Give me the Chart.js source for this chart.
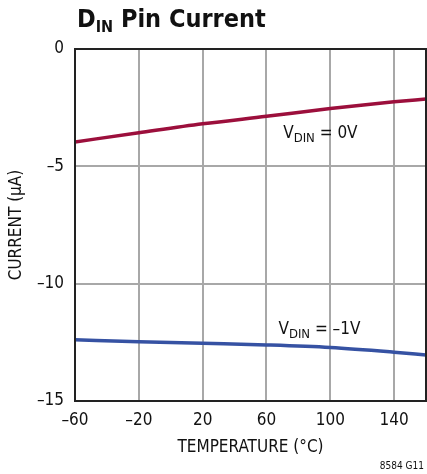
<!DOCTYPE html>
<html lang="en">
<head>
    <meta charset="UTF-8">
    <title>DIN Pin Current</title>
    <style>
        html, body { margin: 0; padding: 0; background: #fff; }
        #wrap { width: 427px; height: 474px; position: relative; }
    </style>
</head>
<body>
    <div id="wrap"><canvas id="chart"></canvas></div>

    <script src="https://cdn.jsdelivr.net/npm/chart.js"></script>
    <script>
        // temperature (°C)
        const temps = [-60, -20, 20, 60, 100, 140, 160];
        // current (µA) for VDIN = 0V and VDIN = -1V
        const current0V = [-3.96, -3.57, -3.19, -2.87, -2.54, -2.25, -2.13];
        const currentNeg1V = [-12.39, -12.47, -12.54, -12.61, -12.72, -12.92, -13.04];
        const xTicks = [-60, -20, 20, 60, 100, 140];
        const yTicks = [-15, -10, -5, 0];

        const FONT = "'Liberation Sans Narrow', 'DejaVu Sans Condensed', 'Liberation Sans', sans-serif";
        const dash = v => String(v).replace('-', '\u2013');

        // title, curve labels, frame and figure id
        const extras = {
            id: 'extras',
            afterDraw(chart) {
                const ctx = chart.ctx;
                const a = chart.chartArea;
                const x = chart.scales.x, y = chart.scales.y;
                ctx.save();

                ctx.strokeStyle = '#222';
                ctx.lineWidth = 2;
                ctx.strokeRect(a.left, a.top, a.right - a.left, a.bottom - a.top);

                ctx.fillStyle = '#111';
                ctx.textBaseline = 'alphabetic';
                ctx.textAlign = 'left';
                // title D_IN Pin Current
                let tx = 77;
                ctx.font = 'bold 25px ' + FONT;
                ctx.fillText('D', tx, 27);
                tx += ctx.measureText('D').width;
                ctx.font = 'bold 16px ' + FONT;
                ctx.fillText('IN', tx, 32);
                tx += ctx.measureText('IN').width;
                ctx.font = 'bold 25px ' + FONT;
                ctx.fillText(' Pin Current', tx, 27);

                // curve labels
                const label = (px, py, tail) => {
                    ctx.font = '17px ' + FONT;
                    ctx.fillText('V', px, py);
                    let w = ctx.measureText('V').width;
                    ctx.font = '13px ' + FONT;
                    ctx.fillText('DIN', px + w, py + 4);
                    w += ctx.measureText('DIN').width;
                    ctx.font = '17px ' + FONT;
                    ctx.fillText(tail, px + w, py);
                };
                label(x.getPixelForValue(70.5), y.getPixelForValue(-3.8), ' = 0V');
                label(x.getPixelForValue(67.5), y.getPixelForValue(-12.15), ' = \u20131V');

                ctx.font = '10px ' + FONT;
                ctx.textAlign = 'right';
                ctx.fillText('8584 G11', 424, 469);
                ctx.restore();
            }
        };

        new Chart(document.getElementById('chart'), {
            type: 'line',
            data: {
                datasets: [
                    {
                        label: 'VDIN = 0V',
                        data: temps.map((t, i) => ({ x: t, y: current0V[i] })),
                        borderColor: '#9c0f3c',
                        borderWidth: 3.5,
                        pointRadius: 0,
                        cubicInterpolationMode: 'monotone'
                    },
                    {
                        label: 'VDIN = -1V',
                        data: temps.map((t, i) => ({ x: t, y: currentNeg1V[i] })),
                        borderColor: '#3652a3',
                        borderWidth: 3.5,
                        pointRadius: 0,
                        cubicInterpolationMode: 'monotone'
                    }
                ]
            },
            options: {
                responsive: true,
                maintainAspectRatio: false,
                animation: false,
                layout: { padding: { top: 49, right: 1, left: 0, bottom: 0 } },
                plugins: { legend: { display: false }, tooltip: { enabled: false } },
                scales: {
                    x: {
                        type: 'linear',
                        min: -60,
                        max: 160,
                        afterBuildTicks: s => { s.ticks = xTicks.map(v => ({ value: v })); },
                        afterFit: s => { s.height = 73; },
                        grid: { color: '#a8a8a8', lineWidth: 2, drawTicks: false },
                        border: { display: false },
                        ticks: {
                            color: '#111',
                            padding: 9,
                            maxRotation: 0,
                            font: { family: FONT, size: 17 },
                            callback: v => dash(v)
                        },
                        title: {
                            display: true,
                            text: 'TEMPERATURE (°C)',
                            color: '#111',
                            padding: { top: 0, bottom: 16 },
                            font: { family: FONT, size: 17 }
                        }
                    },
                    y: {
                        min: -15,
                        max: 0,
                        afterBuildTicks: s => { s.ticks = yTicks.map(v => ({ value: v })); },
                        afterFit: s => { s.width = 75; },
                        grid: { color: '#a8a8a8', lineWidth: 2, drawTicks: false },
                        border: { display: false },
                        ticks: {
                            color: '#111',
                            padding: 11,
                            font: { family: FONT, size: 17 },
                            callback: v => dash(v)
                        },
                        title: {
                            display: true,
                            text: 'CURRENT (μA)',
                            color: '#111',
                            padding: { top: 6, bottom: 0 },
                            font: { family: FONT, size: 17 }
                        }
                    }
                }
            },
            plugins: [extras]
        });
    </script>
</body>
</html>
